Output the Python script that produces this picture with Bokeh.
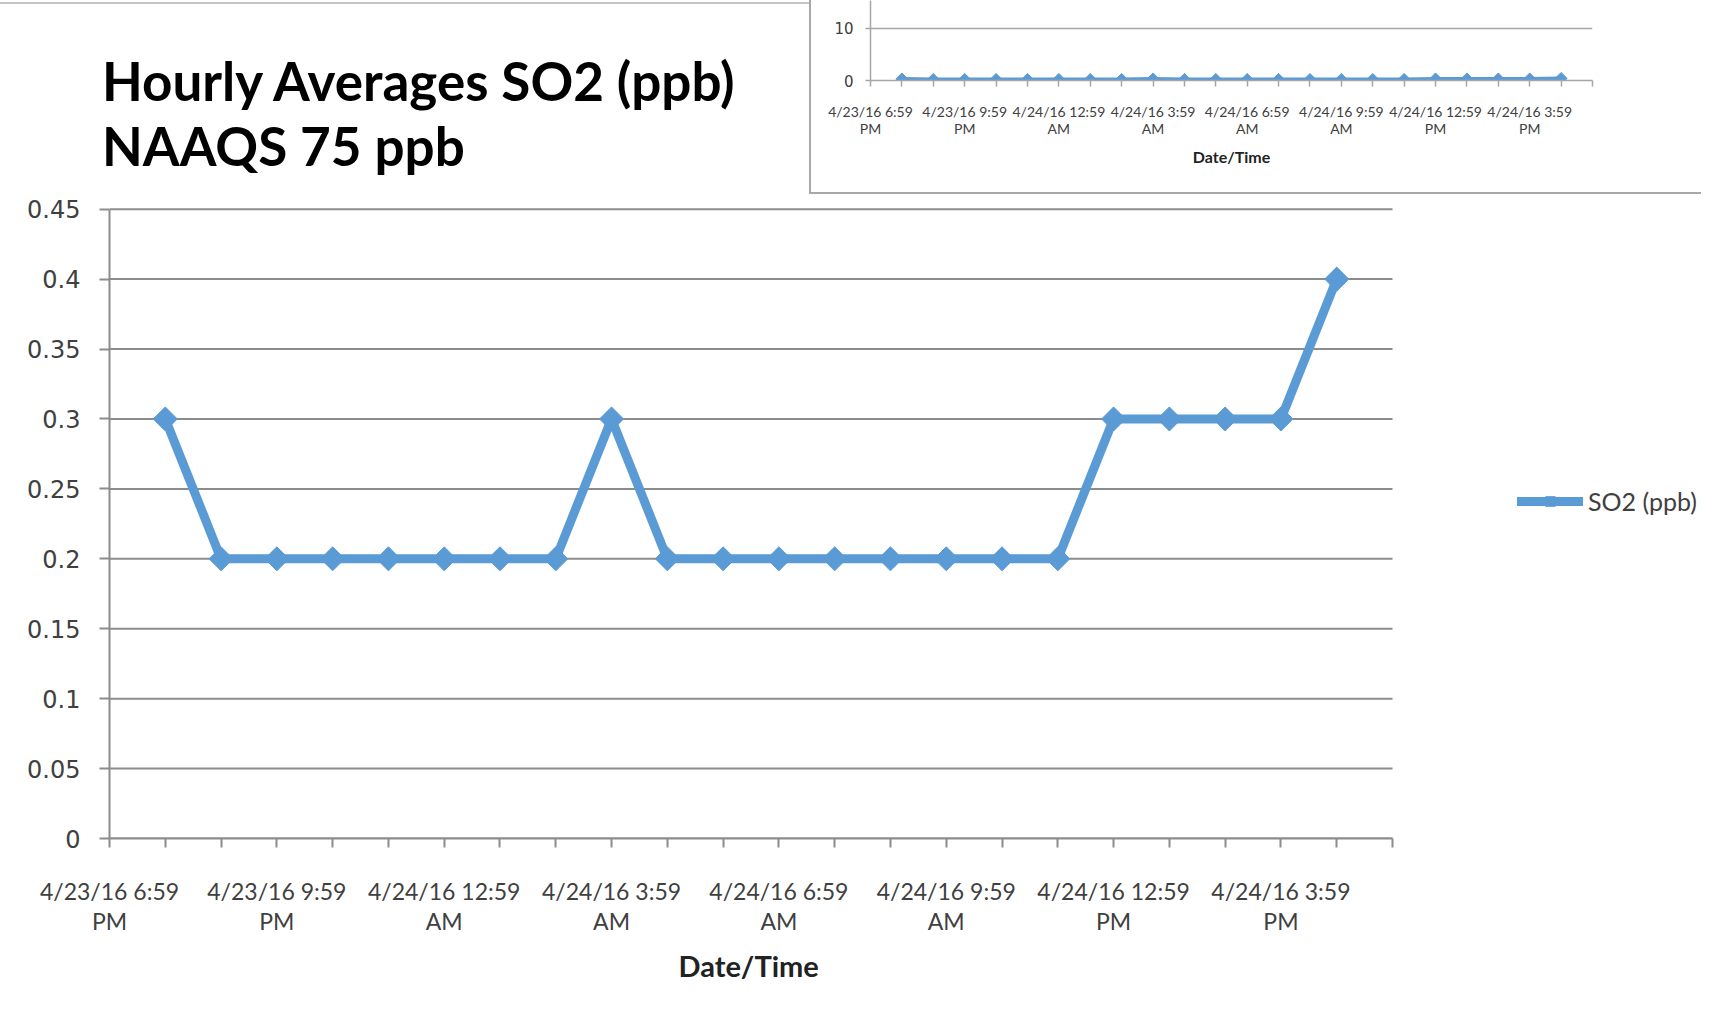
import pandas as pd
from bokeh.plotting import figure
from bokeh.models import Range1d, FixedTicker, Legend, LegendItem, Div, Spacer, Title
from bokeh.layouts import column, row
from bokeh.embed import file_html
from bokeh.resources import INLINE

# ---------------- data ----------------
axis_start = "4/23/16 6:59 PM"
axis_end = "4/24/16 5:59 PM"
reading_times = [
    "4/23/16 7:59 PM", "4/23/16 8:59 PM", "4/23/16 9:59 PM", "4/23/16 10:59 PM",
    "4/23/16 11:59 PM", "4/24/16 12:59 AM", "4/24/16 1:59 AM", "4/24/16 2:59 AM",
    "4/24/16 3:59 AM", "4/24/16 4:59 AM", "4/24/16 5:59 AM", "4/24/16 6:59 AM",
    "4/24/16 7:59 AM", "4/24/16 8:59 AM", "4/24/16 9:59 AM", "4/24/16 10:59 AM",
    "4/24/16 11:59 AM", "4/24/16 12:59 PM", "4/24/16 1:59 PM", "4/24/16 2:59 PM",
    "4/24/16 3:59 PM", "4/24/16 4:59 PM",
]
so2_ppb = [0.3, 0.2, 0.2, 0.2, 0.2, 0.2, 0.2, 0.2, 0.3, 0.2, 0.2,
           0.2, 0.2, 0.2, 0.2, 0.2, 0.2, 0.3, 0.3, 0.3, 0.3, 0.4]
tick_label_times = ["4/23/16 6:59 PM", "4/23/16 9:59 PM", "4/24/16 12:59 AM",
                    "4/24/16 3:59 AM", "4/24/16 6:59 AM", "4/24/16 9:59 AM",
                    "4/24/16 12:59 PM", "4/24/16 3:59 PM"]
y_ticks = [0, 0.05, 0.1, 0.15, 0.2, 0.25, 0.3, 0.35, 0.4, 0.45]
y_tick_labels = ["0", "0.05", "0.1", "0.15", "0.2", "0.25", "0.3", "0.35", "0.4", "0.45"]
inset_y_ticks = [0, 10]
inset_y_tick_labels = ["0", "10"]
series_name = "SO2 (ppb)"
title_lines = ["Hourly Averages SO2 (ppb)", "NAAQS 75 ppb"]
x_title = "Date/Time"

# ---------------- derived positions (hours after axis start) ----------------
fmt = "%m/%d/%y %I:%M %p"
t0 = pd.to_datetime(axis_start, format=fmt)
def hours(s):
    return (pd.to_datetime(s, format=fmt) - t0) / pd.Timedelta(hours=1)

x_hours = [hours(s) for s in reading_times]
x_end = hours(axis_end)
all_ticks = list(range(0, int(x_end) + 1))
label_map = {int(hours(s)): s.rsplit(" ", 1)[0] + "\n" + s.rsplit(" ", 1)[1] for s in tick_label_times}
x_overrides = {t: label_map.get(t, "") for t in all_ticks}

BLUE = "#5B9BD5"
GRID = "#8c8c8c"
LABEL = "#404040"
BORDER = "#a8a8a8"

# ---------------- top strip: title (HTML text) + inset chart ----------------
title_html = ('<div style="font-family: Lato, sans-serif; font-weight: bold; font-size: 53px; '
              'line-height: 65px; color: #000000; padding: 44px 0 0 102px; margin: 2px 0 0 0; '
              'width: 809px; box-sizing: border-box; '
              'border-top: 2px solid #c4c4c4; white-space: nowrap;">'
              + "<br>".join(title_lines) + '</div>')
title_div = Div(text=title_html, width=809, height=192, margin=0)
vborder = Div(text="", width=2, height=192, margin=0, styles={"background-color": BORDER})

ins = figure(width=890, height=192, output_backend="svg", toolbar_location=None,
             x_range=Range1d(0, x_end), y_range=Range1d(0, 15.38),
             min_border_left=59, min_border_right=109, min_border_top=0,
             min_border_bottom=112, outline_line_color=None)
ins.xgrid.visible = False
ins.ygrid.ticker = FixedTicker(ticks=inset_y_ticks)
ins.ygrid.grid_line_color = "#a6a6a6"
ins.ygrid.grid_line_width = 1.5
ins.yaxis.ticker = FixedTicker(ticks=inset_y_ticks)
ins.yaxis.major_label_overrides = dict(zip(inset_y_ticks, inset_y_tick_labels))
ins.xaxis.ticker = FixedTicker(ticks=all_ticks)
ins.xaxis.major_label_overrides = x_overrides
for ax in (ins.xaxis[0], ins.yaxis[0]):
    ax.axis_line_color = "#a6a6a6"
    ax.axis_line_width = 1.5
    ax.major_tick_line_color = "#a6a6a6"
    ax.major_tick_line_width = 1.5
    ax.major_tick_in = 0
    ax.minor_tick_line_color = None
    ax.major_label_text_color = LABEL
ins.yaxis.major_tick_out = 5
ins.yaxis.major_label_standoff = 12
ins.yaxis.major_label_text_font = "DejaVu Sans"
ins.yaxis.major_label_text_font_size = "15px"
ins.xaxis.major_tick_out = 6
ins.xaxis.major_label_standoff = 16
ins.xaxis.major_label_text_font = "Lato"
ins.xaxis.major_label_text_font_size = "14px"
ins.xaxis.major_label_text_line_height = 1.0
ins.xaxis.axis_label = x_title
ins.xaxis.axis_label_text_font = "Lato"
ins.xaxis.axis_label_text_font_style = "bold"
ins.xaxis.axis_label_text_font_size = "16px"
ins.xaxis.axis_label_text_color = "#222222"
ins.xaxis.axis_label_standoff = 7
ins.line(x_hours, so2_ppb, line_width=4, color=BLUE, line_join="round")
ins.scatter(x_hours, so2_ppb, marker="square", size=8.5, angle=0.785398, color=BLUE)

hgap = Spacer(width=809, height=2, margin=0)
hborder = Div(text="", width=892, height=2, margin=0, styles={"background-color": BORDER})

# ---------------- main chart ----------------
# frame spans to the right edge so the legend can sit inside it; the axis is bounded to the data span
px_per_hour = 1283 / x_end
x_view_end = x_end + 309 / px_per_hour
y_view_end = 0.45 * 634 / 629.3
p = figure(width=1701, height=816, output_backend="svg", toolbar_location=None,
           x_range=Range1d(0, x_view_end), y_range=Range1d(0, y_view_end),
           min_border_left=109, min_border_right=0, min_border_top=10,
           min_border_bottom=172, outline_line_color=None)
p.grid.visible = False
p.segment(x0=[0] * len(y_ticks), x1=[x_end] * len(y_ticks), y0=y_ticks, y1=y_ticks,
          line_color=GRID, line_width=2)
p.yaxis.ticker = FixedTicker(ticks=y_ticks)
p.yaxis.major_label_overrides = dict(zip(y_ticks, y_tick_labels))
p.yaxis.bounds = (0, 0.45)
p.xaxis.ticker = FixedTicker(ticks=all_ticks)
p.xaxis.major_label_overrides = x_overrides
p.xaxis.bounds = (0, x_end)
for ax in (p.xaxis[0], p.yaxis[0]):
    ax.axis_line_color = GRID
    ax.axis_line_width = 2
    ax.major_tick_line_color = GRID
    ax.major_tick_line_width = 2
    ax.major_tick_in = 0
    ax.minor_tick_line_color = None
    ax.major_label_text_color = LABEL
p.yaxis.major_tick_out = 10
p.yaxis.major_label_standoff = 19
p.yaxis.major_label_text_font = "DejaVu Sans"
p.yaxis.major_label_text_font_size = "24px"
p.xaxis.major_tick_out = 9
p.xaxis.major_label_standoff = 29
p.xaxis.major_label_text_font = "Lato"
p.xaxis.major_label_text_font_size = "23px"
p.xaxis.major_label_text_line_height = 1.08

# x-axis title, centred under the data span
p.add_layout(Title(text=x_title, align="left", offset=569, standoff=17,
                   text_font="Lato", text_font_style="bold", text_font_size="29px",
                   text_color="#222222"), "below")

r_line = p.line(x_hours, so2_ppb, line_width=9, color=BLUE, line_join="round", line_cap="round")
r_mark = p.scatter(x_hours, so2_ppb, marker="square", size=17, angle=0.785398, color=BLUE)

legend = Legend(items=[LegendItem(label=series_name, renderers=[r_line, r_mark])],
                location=(1408, 322), padding=0, margin=0, spacing=0,
                glyph_width=66, glyph_height=24, label_height=24, label_standoff=5,
                label_text_font="Lato", label_text_font_size="25px",
                label_text_color=LABEL, border_line_color=None,
                background_fill_alpha=0)
p.add_layout(legend)

page = column(row(title_div, vborder, ins), row(hgap, hborder), p)
open("out.html", "w").write(file_html(page, INLINE))
